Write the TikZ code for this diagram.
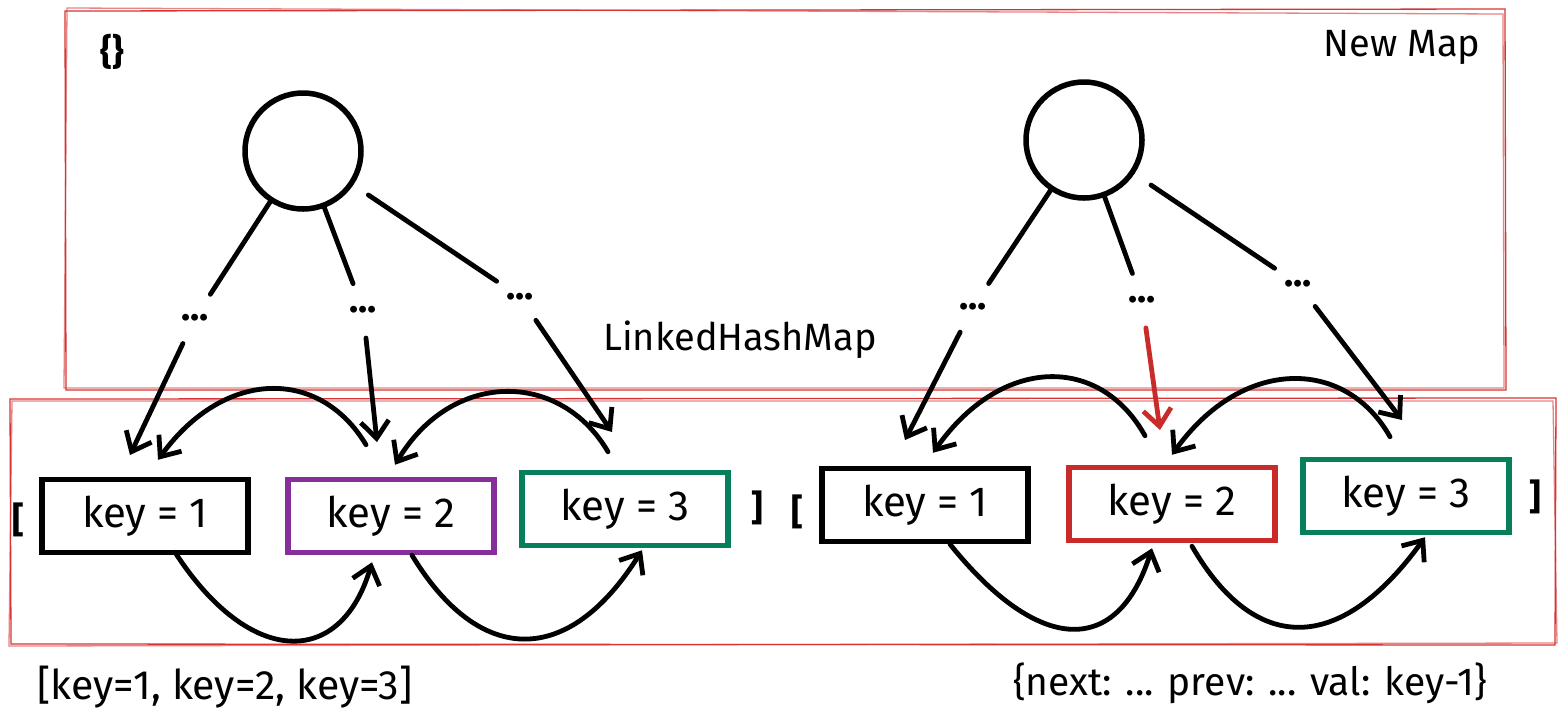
\documentclass[tikz,border=0pt]{standalone}
\usepackage{fontspec}
\setmainfont{Fira Sans}
\usetikzlibrary{arrows.meta,calc}
\definecolor{exred}{HTML}{C92A2A}
\definecolor{frame}{HTML}{D63434}
\definecolor{expurple}{HTML}{862E9C}
\definecolor{exgreen}{HTML}{087F5B}
\tikzset{
  stroke/.style={line width=4.8pt, line cap=round, line join=round},
  arr/.style={stroke, -{Straight Barb[length=17pt,width=28pt,line width=4.8pt]}},
  frameline/.style={draw=frame, line width=1.3pt},
  circ/.style={circle, draw, line width=5.5pt, minimum size=116pt, inner sep=0pt},
  dots/.style={circle, minimum size=56pt, inner sep=0pt, font=\bfseries\fontsize{38}{38}\selectfont},
  keybox/.style={draw, line width=5.5pt, minimum width=206pt, minimum height=73pt, inner sep=0pt, font=\fontsize{42}{44}\selectfont},
  lbl/.style={inner sep=0pt, font=\fontsize{35}{38}\selectfont},
  brk/.style={inner sep=0pt, font=\bfseries\fontsize{36}{38}\selectfont}
}
\begin{document}
\begin{tikzpicture}[x=1pt,y=-1pt]
\useasboundingbox (0,0) rectangle (1567,724);
\fill[white] (0,0) rectangle (1567,724);
% frames
\draw[frameline] (65,11) -- (1505,9) -- (1506,390) -- (66,390) -- cycle;
\draw[frameline, opacity=0.6] (67,8) -- (1503,14) -- (1504,388) -- (64,388) -- cycle;
\draw[frameline] (10,399) -- (1556,398) -- (1555,645) -- (11,644) -- cycle;
\draw[frameline, opacity=0.6] (12,401) -- (1553,401) -- (1557,643) -- (9,646) -- cycle;
% labels
\node[lbl, font=\bfseries\fontsize{36}{38}\selectfont] (brace) at (112,52) {\{\}};
\node[lbl, font=\fontsize{38}{40}\selectfont] (newmap) at (1402,47) {New Map};
\node[lbl, font=\fontsize{38}{40}\selectfont] (lhm) at (740,340) {LinkedHashMap};
\node[lbl, font=\fontsize{41}{44}\selectfont] (arrtxt) at (225,687) {[key=1, key=2, key=3]};
\node[lbl, font=\fontsize{39}{42}\selectfont] (objtxt) at (1250,683) {\{next: ... prev: ... val: key-1\}};
% ---------- left tree ----------
\node[circ] (lc) at (303,151) {};
\node[dots] (ld1) at (195,318) {...};
\node[dots] (ld2) at (363,310) {...};
\node[dots] (ld3) at (520,297) {...};
\draw[stroke] (lc) -- (ld1);
\draw[stroke] (lc) -- (ld2);
\draw[stroke, shorten <=18pt] (lc) -- (ld3);
\node[keybox] (lb1) at (145,516) {key = 1};
\node[keybox, draw=expurple] (lb2) at (391,516) {key = 2};
\node[keybox, draw=exgreen] (lb3) at (625,509) {key = 3};
\node[brk] (lo) at (18,520) {[};
\node[brk] (lcl) at (757,508) {]};
\coordinate (lt1) at (130,455);
\coordinate (lt2) at (377,442);
\coordinate (lt3) at (612,432);
\draw[arr] (ld1) -- (lt1);
\draw[arr] (ld2) -- (lt2);
\draw[arr] (ld3) -- (lt3);
% prev links
\draw[arr] ([xshift=-25pt,yshift=32pt]lb2.north) .. controls (320,368) and (225,368) .. ([xshift=13pt,yshift=17pt]lb1.north);
\draw[arr] ([xshift=-17pt,yshift=18pt]lb3.north) .. controls (560,370) and (452,370) .. ([xshift=4pt,yshift=12pt]lb2.north);
% next links
\draw[arr] ([xshift=30pt,yshift=3pt]lb1.south) .. controls (250,668) and (341,668) .. ([xshift=-19pt,yshift=-7pt]lb2.south);
\draw[arr] ([xshift=21pt]lb2.south) .. controls (480,667) and (569,667) .. ([xshift=17pt,yshift=-2pt]lb3.south);
% ---------- right tree ----------
\node[circ] (rc) at (1084,140) {};
\node[dots] (rd1) at (973,307) {...};
\node[dots] (rd2) at (1142,300) {...};
\node[dots] (rd3) at (1298,284) {...};
\draw[stroke] (rc) -- (rd1);
\draw[stroke] (rc) -- (rd2);
\draw[stroke, shorten <=20pt] (rc) -- (rd3);
\node[keybox] (rb1) at (925,505) {key = 1};
\node[keybox, draw=exred] (rb2) at (1172,504) {key = 2};
\node[keybox, draw=exgreen] (rb3) at (1406,496) {key = 3};
\node[brk] (ro) at (797,512) {[};
\node[brk] (rcl) at (1535,497) {]};
\coordinate (rt1) at (905,440);
\coordinate (rt2) at (1160,430);
\coordinate (rt3) at (1402,420);
\draw[arr] (rd1) -- (rt1);
\draw[arr, draw=exred] (rd2) -- (rt2);
\draw[arr] (rd3) -- (rt3);
% prev links
\draw[arr] ([xshift=-27pt,yshift=29pt]rb2.north) .. controls (1100,355) and (1002,355) .. ([xshift=8pt,yshift=13pt]rb1.north);
\draw[arr] ([xshift=-16pt,yshift=20pt]rb3.north) .. controls (1345,357) and (1242,357) .. ([yshift=10pt]rb2.north);
% next links
\draw[arr] ([xshift=25pt]rb1.south) .. controls (1040,656) and (1118,656) .. ([xshift=-20pt,yshift=-5pt]rb2.south);
\draw[arr] ([xshift=20pt,yshift=-3pt]rb2.south) .. controls (1255,655) and (1340,655) .. ([xshift=19pt,yshift=-2pt]rb3.south);
\end{tikzpicture}
\end{document}
